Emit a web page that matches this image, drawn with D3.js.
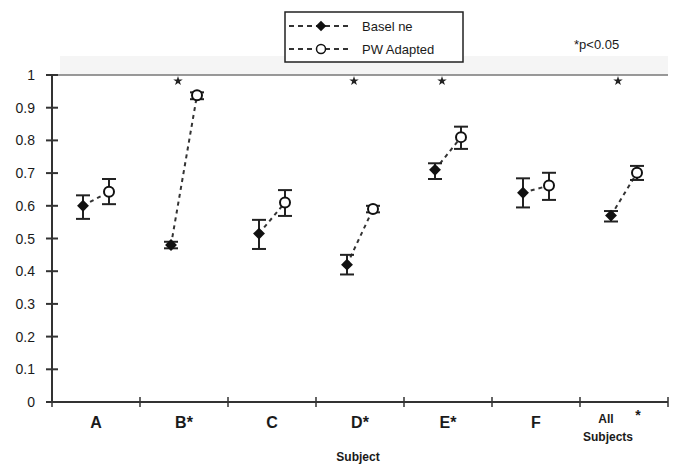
<!DOCTYPE html>
<html>
<head>
<meta charset="utf-8">
<script src="https://cdn.jsdelivr.net/npm/d3@7"></script>
<style>
  body { margin: 0; background: #fff; }
  text { font-family: Arial, "Liberation Sans", sans-serif; fill: #1a1a1a; }
</style>
</head>
<body>
<div id="content"></div>
<script>
// data
var subjects = ["A", "B", "C", "D", "E", "F", "All Subjects"];
var xLabels = [["A"], ["B*"], ["C"], ["D*"], ["E*"], ["F"], ["All", "Subjects"]];
var baseline = [0.60, 0.48, 0.515, 0.42, 0.71, 0.64, 0.57];
var baselineLo = [0.56, 0.47, 0.468, 0.39, 0.682, 0.595, 0.552];
var baselineHi = [0.632, 0.49, 0.557, 0.45, 0.73, 0.684, 0.584];
var adapted = [0.643, 0.938, 0.61, 0.59, 0.81, 0.662, 0.701];
var adaptedLo = [0.605, 0.926, 0.569, 0.58, 0.774, 0.618, 0.679];
var adaptedHi = [0.682, 0.947, 0.648, 0.60, 0.842, 0.701, 0.722];
var starred = ["B", "D", "E", "All Subjects"];
var yTicks = [0, 0.1, 0.2, 0.3, 0.4, 0.5, 0.6, 0.7, 0.8, 0.9, 1];

var width = 676, height = 466;
var mLeft = 52, mRight = 668, mTop = 75, mBottom = 402;

var svg = d3.select("#content")
  .append("svg")
  .attr("width", width)
  .attr("height", height);

var x = d3.scaleBand()
  .domain(subjects)
  .range([mLeft, mRight]);

var y = d3.scaleLinear()
  .domain([0, 1])
  .range([mBottom, mTop]);

var off = 13;
function cx(i) { return x(subjects[i]) + x.bandwidth() / 2; }

// faint scan band above the top gridline
svg.append("rect")
  .attr("x", mLeft + 8).attr("y", 56)
  .attr("width", mRight - mLeft - 8).attr("height", mTop - 56)
  .attr("fill", "#f5f5f5");

// top line at 1
svg.append("line")
  .attr("x1", mLeft).attr("x2", mRight)
  .attr("y1", y(1)).attr("y2", y(1))
  .attr("stroke", "#777").attr("stroke-width", 1.5);

// y axis
svg.append("line")
  .attr("x1", mLeft).attr("x2", mLeft)
  .attr("y1", y(1)).attr("y2", y(0))
  .attr("stroke", "#333").attr("stroke-width", 2);

yTicks.forEach(function(t) {
  svg.append("line")
    .attr("x1", mLeft - 6).attr("x2", mLeft + 6)
    .attr("y1", y(t)).attr("y2", y(t))
    .attr("stroke", "#333").attr("stroke-width", 2);
  svg.append("text")
    .attr("x", 35).attr("y", y(t) + 5)
    .attr("text-anchor", "end")
    .attr("font-size", "14px")
    .text(t);
});

// x axis
svg.append("line")
  .attr("x1", mLeft).attr("x2", mRight)
  .attr("y1", y(0)).attr("y2", y(0))
  .attr("stroke", "#333").attr("stroke-width", 2);

subjects.concat([null]).forEach(function(s) {
  var xx = s ? x(s) : mRight;
  svg.append("line")
    .attr("x1", xx).attr("x2", xx)
    .attr("y1", y(0) - 5).attr("y2", y(0) + 5)
    .attr("stroke", "#333").attr("stroke-width", 1.5);
});

xLabels.forEach(function(lines, i) {
  if (lines.length == 1) {
    svg.append("text")
      .attr("x", cx(i)).attr("y", 428)
      .attr("text-anchor", "middle")
      .attr("font-size", "16px")
      .attr("font-weight", "bold")
      .text(lines[0]);
  } else {
    svg.append("text")
      .attr("x", cx(i) - 18).attr("y", 423)
      .attr("text-anchor", "middle")
      .attr("font-size", "12px")
      .attr("font-weight", "bold")
      .text(lines[0]);
    svg.append("text")
      .attr("x", cx(i) - 16).attr("y", 441)
      .attr("text-anchor", "middle")
      .attr("font-size", "12px")
      .attr("font-weight", "bold")
      .text(lines[1]);
    svg.append("text")
      .attr("x", cx(i) + 14).attr("y", 420)
      .attr("text-anchor", "middle")
      .attr("font-size", "14px")
      .attr("font-weight", "bold")
      .text("*");
  }
});

svg.append("text")
  .attr("x", 358).attr("y", 461)
  .attr("text-anchor", "middle")
  .attr("font-size", "12px")
  .attr("font-weight", "bold")
  .text("Subject");

// significance stars under the top line
starred.forEach(function(s) {
  var i = subjects.indexOf(s);
  svg.append("path")
    .attr("d", d3.symbol().type(d3.symbolStar).size(28)())
    .attr("transform", "translate(" + (cx(i) - 6) + "," + (y(1) + 6) + ")")
    .attr("fill", "#222");
});

// connecting dashed lines
subjects.forEach(function(s, i) {
  svg.append("line")
    .attr("x1", cx(i) - off).attr("y1", y(baseline[i]))
    .attr("x2", cx(i) + off).attr("y2", y(adapted[i]))
    .attr("stroke", "#333").attr("stroke-width", 2)
    .attr("stroke-dasharray", "4,4");
});

// error bars
function errorBar(xx, lo, hi) {
  var g = svg.append("g").attr("stroke", "#222").attr("stroke-width", 2);
  g.append("line").attr("x1", xx).attr("x2", xx).attr("y1", y(lo)).attr("y2", y(hi));
  g.append("line").attr("x1", xx - 7).attr("x2", xx + 7).attr("y1", y(lo)).attr("y2", y(lo));
  g.append("line").attr("x1", xx - 7).attr("x2", xx + 7).attr("y1", y(hi)).attr("y2", y(hi));
}

subjects.forEach(function(s, i) {
  errorBar(cx(i) - off, baselineLo[i], baselineHi[i]);
  errorBar(cx(i) + off, adaptedLo[i], adaptedHi[i]);
});

// markers
subjects.forEach(function(s, i) {
  svg.append("path")
    .attr("d", d3.symbol().type(d3.symbolDiamond2).size(90)())
    .attr("transform", "translate(" + (cx(i) - off) + "," + y(baseline[i]) + ")")
    .attr("fill", "#111");
  svg.append("circle")
    .attr("cx", cx(i) + off).attr("cy", y(adapted[i]))
    .attr("r", 5)
    .attr("fill", "#fff").attr("stroke", "#111").attr("stroke-width", 2);
});

// legend
var lg = svg.append("g");
lg.append("rect")
  .attr("x", 285).attr("y", 12).attr("width", 178).attr("height", 50)
  .attr("fill", "#fff").attr("stroke", "#222").attr("stroke-width", 1.5);
[["Basel ne", true, 26], ["PW Adapted", false, 49]].forEach(function(d) {
  lg.append("line")
    .attr("x1", 289).attr("x2", 350).attr("y1", d[2]).attr("y2", d[2])
    .attr("stroke", "#333").attr("stroke-width", 2)
    .attr("stroke-dasharray", "5,4");
  if (d[1]) {
    lg.append("path")
      .attr("d", d3.symbol().type(d3.symbolDiamond2).size(70)())
      .attr("transform", "translate(321," + d[2] + ")")
      .attr("fill", "#111");
  } else {
    lg.append("circle")
      .attr("cx", 321).attr("cy", d[2]).attr("r", 4.5)
      .attr("fill", "#fff").attr("stroke", "#111").attr("stroke-width", 1.5);
  }
  lg.append("text")
    .attr("x", 362).attr("y", d[2] + 5)
    .attr("font-size", "13px")
    .text(d[0]);
});

svg.append("text")
  .attr("x", 574).attr("y", 49)
  .attr("font-size", "13px")
  .text("*p<0.05");
</script>
</body>
</html>
